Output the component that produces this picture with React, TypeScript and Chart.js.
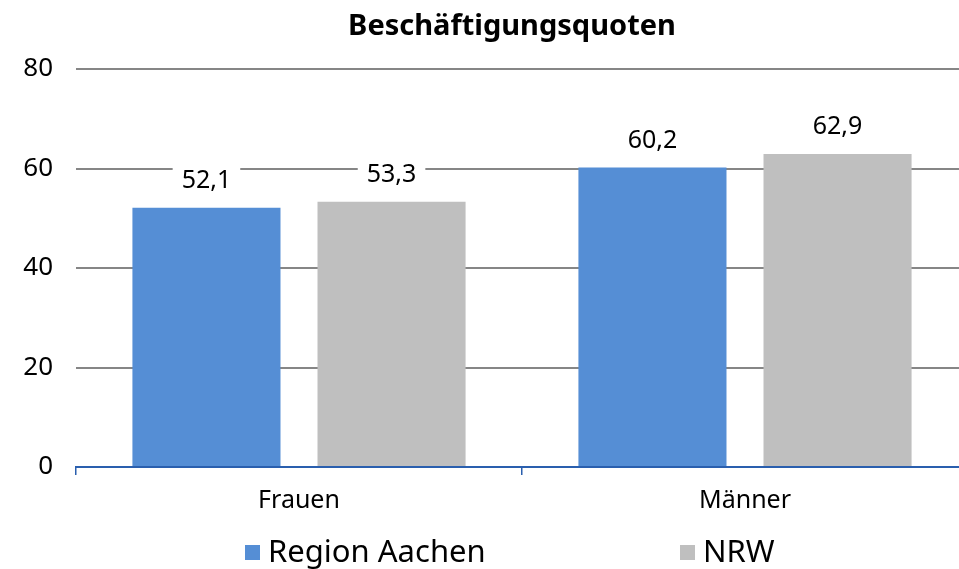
import { useEffect, useRef } from "react";
import { Chart, registerables } from "chart.js";

Chart.register(...registerables);

const chartTitle = "Beschäftigungsquoten";
const categories = ["Frauen", "Männer"];
const seriesNames = ["Region Aachen", "NRW"];
const regionAachen = [52.1, 60.2];
const nrw = [53.3, 62.9];
const yMin = 0;
const yMax = 80;
const yStep = 20;

const FONT = "'Noto Sans', 'Open Sans', sans-serif";
const BLUE = "#558ED5";
const GRAY = "#BFBFBF";

const fmt = (v: number) => v.toFixed(1).replace(".", ",");

const titlePlugin = {
  id: "customTitle",
  afterDraw(chart: any) {
    const { ctx } = chart;
    ctx.save();
    ctx.font = `bold 29px ${FONT}`;
    ctx.fillStyle = "#000";
    ctx.textAlign = "center";
    ctx.textBaseline = "middle";
    ctx.fillText(chartTitle, 512, 27);
    ctx.restore();
  },
};

const legendPlugin = {
  id: "customLegend",
  afterDraw(chart: any) {
    const { ctx } = chart;
    const xs = [245, 680];
    ctx.save();
    ctx.font = `31px ${FONT}`;
    ctx.textBaseline = "middle";
    ctx.textAlign = "left";
    chart.data.datasets.forEach((ds: any, i: number) => {
      const x = xs[i];
      const y = 552;
      ctx.fillStyle = ds.backgroundColor;
      ctx.fillRect(x, y - 7, 15, 15);
      ctx.fillStyle = "#000";
      ctx.fillText(ds.label, x + 23, y + 1);
    });
    ctx.restore();
  },
};

const dataLabelPlugin = {
  id: "dataLabels",
  afterDatasetsDraw(chart: any) {
    const { ctx } = chart;
    ctx.save();
    ctx.font = `25px ${FONT}`;
    ctx.textAlign = "center";
    ctx.textBaseline = "middle";
    chart.data.datasets.forEach((ds: any, di: number) => {
      const meta = chart.getDatasetMeta(di);
      meta.data.forEach((bar: any, i: number) => {
        const text = fmt(ds.data[i]);
        const w = ctx.measureText(text).width;
        const cx = bar.x;
        const cy = bar.y - 27;
        ctx.fillStyle = "#fff";
        ctx.fillRect(cx - w / 2 - 9, cy - 17, w + 18, 34);
        ctx.fillStyle = "#000";
        ctx.fillText(text, cx, cy);
      });
    });
    ctx.restore();
  },
};

export default function App() {
  const ref = useRef<HTMLCanvasElement | null>(null);

  useEffect(() => {
    if (!ref.current) return;
    const chart = new Chart(ref.current, {
      type: "bar",
      data: {
        labels: categories,
        datasets: [
          {
            label: seriesNames[0],
            data: regionAachen,
            backgroundColor: BLUE,
            borderWidth: 0,
            categoryPercentage: 0.83,
            barPercentage: 0.8,
          },
          {
            label: seriesNames[1],
            data: nrw,
            backgroundColor: GRAY,
            borderWidth: 0,
            categoryPercentage: 0.83,
            barPercentage: 0.8,
          },
        ],
      },
      options: {
        responsive: false,
        animation: false,
        devicePixelRatio: 1,
        layout: { padding: { top: 69, left: 0, right: 0, bottom: 0 } },
        plugins: {
          legend: { display: false },
          title: { display: false },
          tooltip: { enabled: false },
        },
        scales: {
          x: {
            offset: true,
            grid: {
              offset: true,
              drawOnChartArea: false,
              drawTicks: true,
              tickLength: 8,
              color: "#2A5FAE",
              lineWidth: 1.5,
            },
            border: { display: true, color: "#2A5FAE", width: 2 },
            ticks: {
              color: "#000",
              font: { family: FONT, size: 25 },
              padding: 11,
            },
            afterFit(scale: any) {
              scale.height = 102;
            },
          },
          y: {
            min: yMin,
            max: yMax,
            ticks: {
              stepSize: yStep,
              color: "#000",
              font: { family: FONT, size: 26 },
              padding: 23,
            },
            grid: {
              drawTicks: false,
              lineWidth: 2,
              color: (c: any) => (c.tick && c.tick.value === 0 ? "rgba(0,0,0,0)" : "#868686"),
            },
            border: { display: false },
            afterFit(scale: any) {
              scale.width = 76;
            },
          },
        },
      },
      plugins: [dataLabelPlugin, titlePlugin, legendPlugin],
    });
    return () => chart.destroy();
  }, []);

  return (
    <div
      style={{
        position: "absolute",
        left: 0,
        top: 0,
        width: 959,
        height: 569,
        overflow: "hidden",
        background: "#fff",
      }}
    >
      <canvas ref={ref} width={968} height={569} style={{ width: 968, height: 569, display: "block" }} />
    </div>
  );
}
